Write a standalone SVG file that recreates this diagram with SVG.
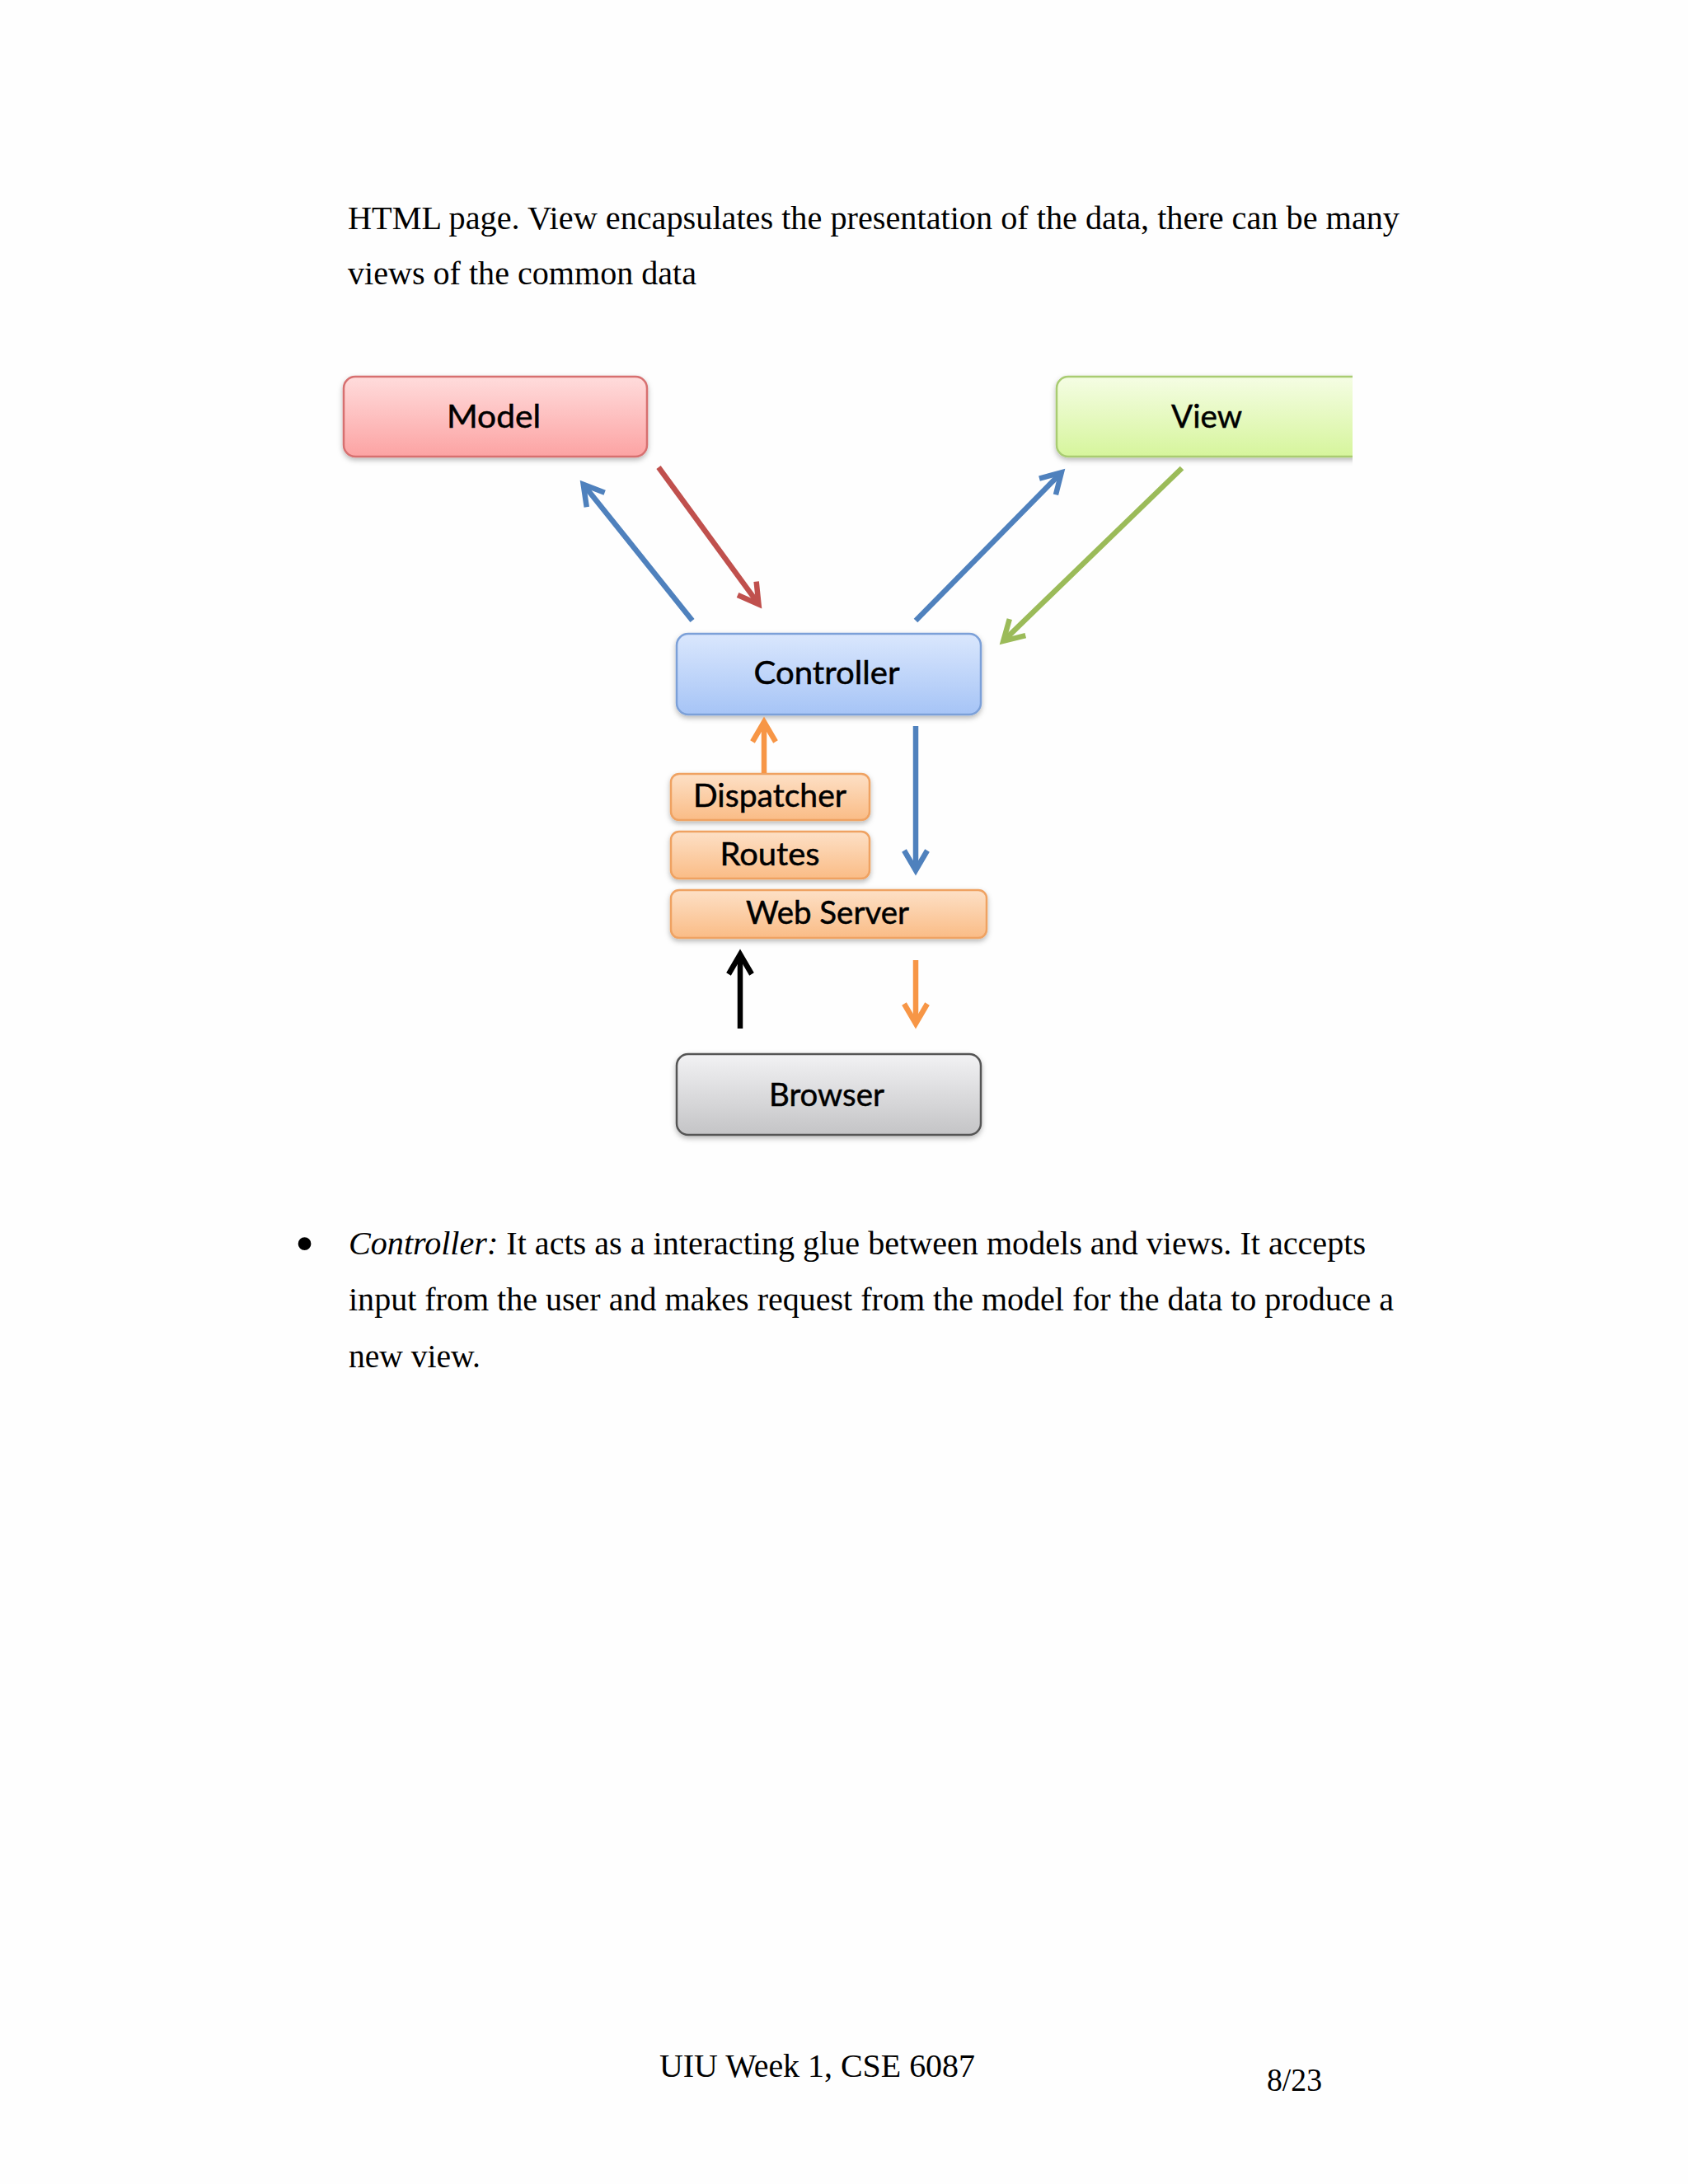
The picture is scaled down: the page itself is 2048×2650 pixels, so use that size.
<svg xmlns="http://www.w3.org/2000/svg" width="2048" height="2650" viewBox="0 0 2048 2650">
<style>
.body{font-family:"Liberation Serif","Times New Roman",serif;font-size:40px;fill:#000}
.bullet{font-family:"Liberation Serif","Times New Roman",serif;font-size:66px;fill:#000}
.lbl{font-family:Lato,"Noto Sans",sans-serif;font-size:39px;fill:#000;text-anchor:middle;stroke:#000;stroke-width:0.5}
.box{stroke-width:2.5}
.conn line{stroke-width:6.5;fill:none}
</style>
<defs>
<filter id="sh" x="-10%" y="-20%" width="120%" height="150%">
<feDropShadow dx="0" dy="3" stdDeviation="3" flood-color="#000" flood-opacity="0.28"/>
</filter>
<linearGradient id="gRed" x1="0" y1="0" x2="0" y2="1"><stop offset="0" stop-color="#FFDCDC"/><stop offset="1" stop-color="#FCA3A3"/></linearGradient>
<linearGradient id="gGreen" x1="0" y1="0" x2="0" y2="1"><stop offset="0" stop-color="#F5FDE4"/><stop offset="1" stop-color="#D6F59C"/></linearGradient>
<linearGradient id="gBlue" x1="0" y1="0" x2="0" y2="1"><stop offset="0" stop-color="#DAE7FD"/><stop offset="1" stop-color="#A6C4F6"/></linearGradient>
<linearGradient id="gOrange" x1="0" y1="0" x2="0" y2="1"><stop offset="0" stop-color="#FDE0C6"/><stop offset="1" stop-color="#FABC86"/></linearGradient>
<linearGradient id="gGrey" x1="0" y1="0" x2="0" y2="1"><stop offset="0" stop-color="#F2F2F4"/><stop offset="1" stop-color="#C4C4C6"/></linearGradient>
<clipPath id="viewClip"><rect x="1270" y="440" width="371" height="130"/></clipPath>
<marker id="mBlue" viewBox="-32 -20 44 40" refX="0" refY="0" markerWidth="44" markerHeight="40" markerUnits="userSpaceOnUse" orient="auto"><path d="M-24,-14 L0,0 L-24,14" fill="none" stroke="#4F81BD" stroke-width="6.5"/></marker>
<marker id="mRed" viewBox="-32 -20 44 40" refX="0" refY="0" markerWidth="44" markerHeight="40" markerUnits="userSpaceOnUse" orient="auto"><path d="M-24,-14 L0,0 L-24,14" fill="none" stroke="#C0504D" stroke-width="6.5"/></marker>
<marker id="mGreen" viewBox="-32 -20 44 40" refX="0" refY="0" markerWidth="44" markerHeight="40" markerUnits="userSpaceOnUse" orient="auto"><path d="M-24,-14 L0,0 L-24,14" fill="none" stroke="#9BBB59" stroke-width="6.5"/></marker>
<marker id="mOrange" viewBox="-32 -20 44 40" refX="0" refY="0" markerWidth="44" markerHeight="40" markerUnits="userSpaceOnUse" orient="auto"><path d="M-24,-14 L0,0 L-24,14" fill="none" stroke="#F79646" stroke-width="6.5"/></marker>
<marker id="mBlack" viewBox="-32 -20 44 40" refX="0" refY="0" markerWidth="44" markerHeight="40" markerUnits="userSpaceOnUse" orient="auto"><path d="M-24,-14 L0,0 L-24,14" fill="none" stroke="#000" stroke-width="6.5"/></marker>
</defs>
<rect x="0" y="0" width="2048" height="2650" fill="#FEFEFE"/>

<g id="text-top">
<text class="body" x="422" y="278" textLength="1276" lengthAdjust="spacingAndGlyphs">HTML page. View encapsulates the presentation of the data, there can be many</text>
<text class="body" x="422" y="345" textLength="423" lengthAdjust="spacingAndGlyphs">views of the common data</text>
</g>

<g id="model"><rect class="box" x="417" y="457" width="368" height="97" rx="14" fill="url(#gRed)" stroke="#D77070" filter="url(#sh)"/><text class="lbl" x="599" y="519" textLength="114" lengthAdjust="spacingAndGlyphs">Model</text></g>
<g id="view"><g clip-path="url(#viewClip)"><rect class="box" x="1282" y="457" width="380" height="97" rx="14" fill="url(#gGreen)" stroke="#A9CC72" filter="url(#sh)"/></g><text class="lbl" x="1464" y="519" textLength="86" lengthAdjust="spacingAndGlyphs">View</text></g>
<g id="controller"><rect class="box" x="821" y="769" width="369" height="98" rx="14" fill="url(#gBlue)" stroke="#7BA0D8" filter="url(#sh)"/><text class="lbl" x="1003" y="830" textLength="177" lengthAdjust="spacingAndGlyphs">Controller</text></g>
<g id="dispatcher"><rect class="box" x="814" y="939" width="241" height="56" rx="10" fill="url(#gOrange)" stroke="#EFA262" filter="url(#sh)"/><text class="lbl" x="934" y="979" textLength="186" lengthAdjust="spacingAndGlyphs">Dispatcher</text></g>
<g id="routes"><rect class="box" x="814" y="1009" width="241" height="57" rx="10" fill="url(#gOrange)" stroke="#EFA262" filter="url(#sh)"/><text class="lbl" x="934" y="1050" textLength="121" lengthAdjust="spacingAndGlyphs">Routes</text></g>
<g id="webserver"><rect class="box" x="814" y="1080" width="383" height="58" rx="10" fill="url(#gOrange)" stroke="#EFA262" filter="url(#sh)"/><text class="lbl" x="1004" y="1121" textLength="198" lengthAdjust="spacingAndGlyphs">Web Server</text></g>
<g id="browser"><rect class="box" x="821" y="1279" width="369" height="98" rx="14" fill="url(#gGrey)" stroke="#555" stroke-width="3" filter="url(#sh)"/><text class="lbl" x="1003" y="1342" textLength="140" lengthAdjust="spacingAndGlyphs">Browser</text></g>

<g id="connectors" class="conn">
<line x1="840" y1="753" x2="707.7" y2="587.7" stroke="#4F81BD" marker-end="url(#mBlue)"/>
<line x1="799" y1="567" x2="920.5" y2="733.2" stroke="#C0504D" marker-end="url(#mRed)"/>
<line x1="1111" y1="753" x2="1287.8" y2="573.3" stroke="#4F81BD" marker-end="url(#mBlue)"/>
<line x1="1434" y1="568" x2="1217.3" y2="777.8" stroke="#9BBB59" marker-end="url(#mGreen)"/>
<line x1="927" y1="938" x2="927" y2="876" stroke="#F79646" marker-end="url(#mOrange)"/>
<line x1="1111" y1="881" x2="1111" y2="1056" stroke="#4F81BD" marker-end="url(#mBlue)"/>
<line x1="898" y1="1248" x2="898" y2="1158" stroke="#000" marker-end="url(#mBlack)"/>
<line x1="1111" y1="1165" x2="1111" y2="1242" stroke="#F79646" marker-end="url(#mOrange)"/>
</g>

<g id="text-bottom">
<text class="bullet" x="358" y="1531">•</text>
<text class="body" x="423" y="1522" textLength="1234" lengthAdjust="spacingAndGlyphs"><tspan font-style="italic">Controller:</tspan> It acts as a interacting glue between models and views. It accepts</text>
<text class="body" x="423" y="1590" textLength="1268" lengthAdjust="spacingAndGlyphs">input from the user and makes request from the model for the data to produce a</text>
<text class="body" x="423" y="1659" textLength="160" lengthAdjust="spacingAndGlyphs">new view.</text>
<text class="body" x="800" y="2520" textLength="383" lengthAdjust="spacingAndGlyphs">UIU Week 1, CSE 6087</text>
<text class="body" x="1537" y="2537" textLength="67" lengthAdjust="spacingAndGlyphs">8/23</text>
</g>
</svg>
